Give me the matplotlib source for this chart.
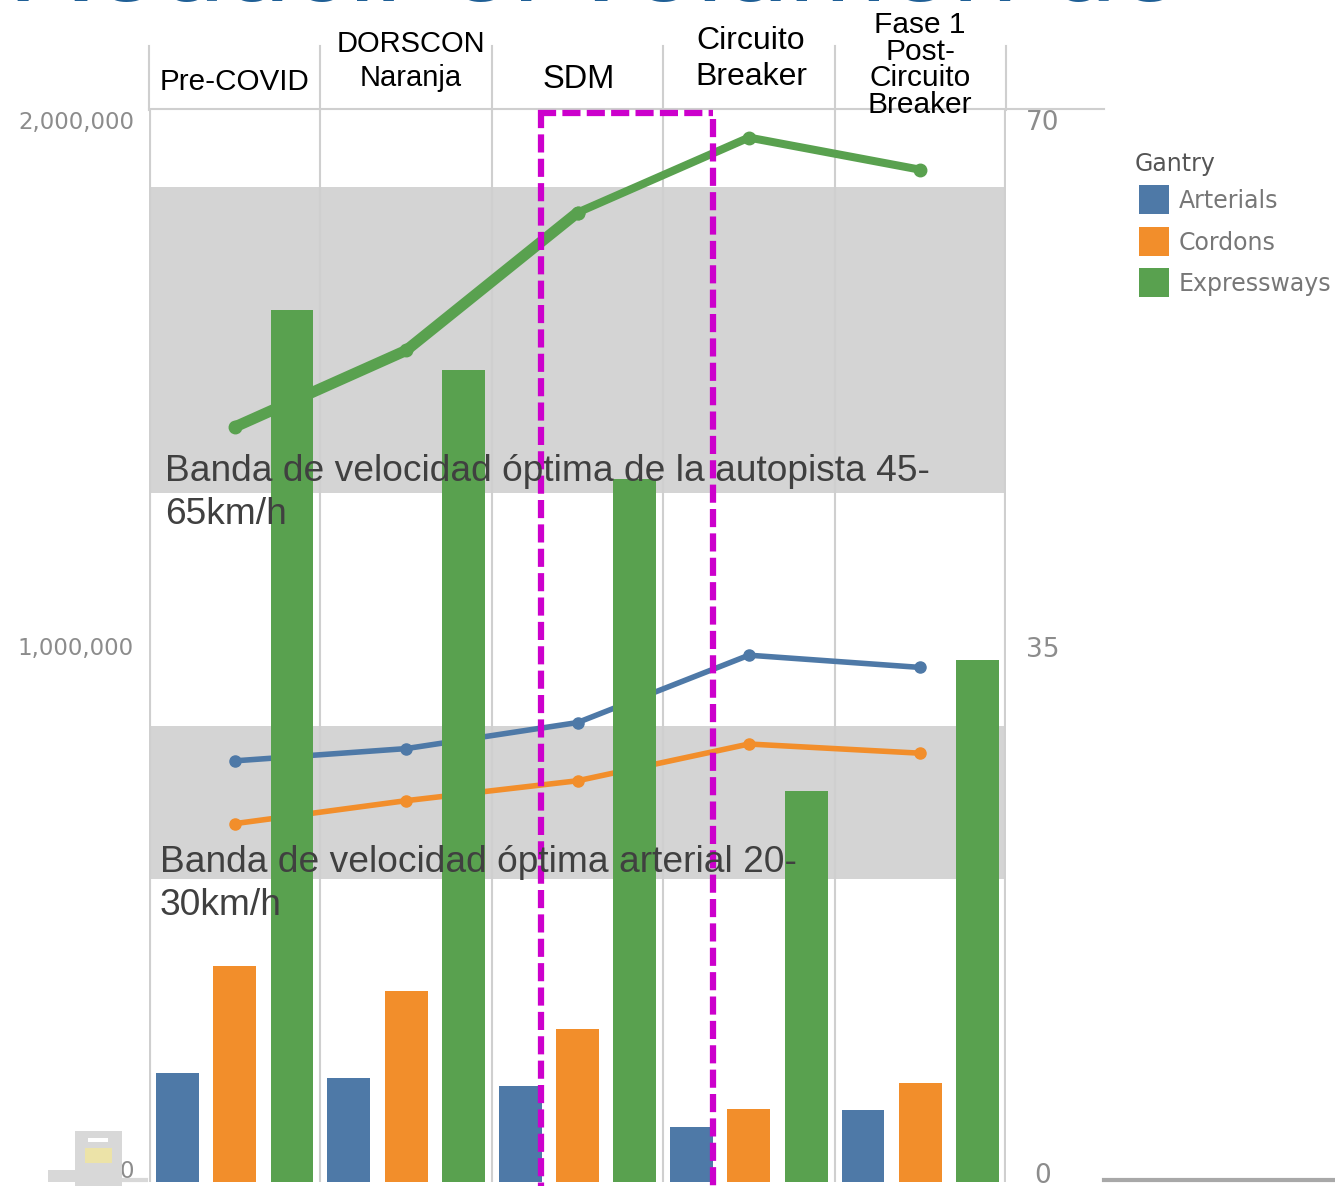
# Traffic volume and speed by circuit breaker phase
import matplotlib
matplotlib.use("Agg")
import matplotlib.pyplot as plt
from matplotlib.patches import Rectangle

W, H = 1335, 1186

# ===========================
# Data
# ===========================
title = "Reducir el volumen de"
phases = ["Pre-COVID", "DORSCON\nNaranja", "SDM", "Circuito\nBreaker", "Fase 1\nPost-\nCircuito\nBreaker"]
gantries = ["Arterials", "Cordons", "Expressways"]
colors = ["#4e79a7", "#f28e2b", "#59a14f"]

# bars, left axis
arterials_vol = [203000, 194000, 179000, 103000, 134000]
cordons_vol = [403000, 356000, 285000, 136000, 185000]
expressways_vol = [1627000, 1515000, 1312000, 729000, 974000]

# lines, right axis
arterials_speed = [27.5, 28.3, 30.0, 34.4, 33.6]
cordons_speed = [23.4, 24.9, 26.2, 28.6, 28.0]
expressways_speed = [49.3, 54.3, 63.3, 68.2, 66.1]

left_ticks = [0, 1000000, 2000000]
right_ticks = [0, 35, 70]
expressway_band = (45, 65)
arterial_band = (19.8, 29.8)
expressway_label = "Banda de velocidad óptima de la autopista 45-\n65km/h"
arterial_label = "Banda de velocidad óptima arterial 20-\n30km/h"

plt.rcParams["font.family"] = ["Liberation Sans", "DejaVu Sans"]

# ===========================
# Figure and axes
# ===========================
fig = plt.figure(figsize=(W / 100, H / 100), dpi=100)
left, right, top, bottom = 149, 1006, 110, 1182
rect = [left / W, 1 - bottom / H, (right - left) / W, (bottom - top) / H]
ax2 = fig.add_axes(rect, zorder=1)   # speed, behind
ax = fig.add_axes(rect, zorder=2)    # volume, bars in front of the lines
ax.patch.set_visible(False)

# pixel overlay for the frame, text and decoration
over = fig.add_axes([0, 0, 1, 1], zorder=3)
over.set_xlim(0, W)
over.set_ylim(H, 0)
over.axis("off")

# ===========================
# Speed bands and lines
# ===========================
x = list(range(5))
ax2.set_xlim(-0.5, 4.5)
ax2.set_ylim(0, 70)
ax2.axhspan(*expressway_band, color="#d4d4d4", lw=0, zorder=1)
ax2.axhspan(*arterial_band, color="#d4d4d4", lw=0, zorder=1)
for i in range(6):
    edge = i in (0, 5)
    ax2.axvline(i - 0.5, color="#cfcfcf", lw=3 if edge else 1.5, zorder=2)
ax2.plot(x, arterials_speed, color=colors[0], lw=4, marker="o", ms=8, zorder=3, solid_capstyle="round")
ax2.plot(x, cordons_speed, color=colors[1], lw=4, marker="o", ms=8, zorder=3, solid_capstyle="round")
ax2.plot(x[:3], expressways_speed[:3], color=colors[2], lw=8, marker="o", ms=9, zorder=3, solid_capstyle="round")
ax2.plot(x[2:], expressways_speed[2:], color=colors[2], lw=5.8, marker="o", ms=9, zorder=3, solid_capstyle="round")
ax2.set_xticks([])
ax2.set_yticks([])
for s in ax2.spines.values():
    s.set_visible(False)

# ===========================
# Volume bars
# ===========================
ax.set_xlim(-0.5, 4.5)
ax.set_ylim(0, 2000000)
w = 0.25
for k, vals in enumerate([arterials_vol, cordons_vol, expressways_vol]):
    ax.bar([i + (k - 1) * 0.334 for i in x], vals, width=w, color=colors[k], zorder=3)
ax.set_xticks([])
ax.set_yticks([])
for s in ax.spines.values():
    s.set_visible(False)

# ===========================
# Tick labels
# ===========================
tick_style = dict(color="#8c8c8c", family="DejaVu Sans", textcoords="offset pixels", va="center")
for val, dy in zip(left_ticks, [10, -3, -12]):
    ax.annotate(f"{val:,}", (0, val), xycoords=ax.get_yaxis_transform(), xytext=(-15, dy),
                ha="right", fontsize=16.5, **tick_style)
for val, dy in zip(right_ticks, [6, -4, -13]):
    ax2.annotate(str(val), (1, val), xycoords=ax2.get_yaxis_transform(), xytext=(37, dy),
                 ha="center", fontsize=19, **tick_style)

# ===========================
# Frame and decoration, in pixels
# ===========================
over.plot([149, 1104], [109, 109], color="#cfcfcf", lw=1.5)
for i in range(6):
    px = left + i * (right - left) / 5
    over.plot([px, px], [46, 110], color="#cfcfcf", lw=1.5)
over.add_patch(Rectangle((843, 20), 152, 120, color="white", lw=0))
over.plot([1104, 1335], [1180, 1180], color="#a8a8a8", lw=3)

# cropped slide title along the top edge
over.text(8, 1, title, ha="left", va="baseline", fontsize=85, color="#1f5f96")

# SDM highlight box
dash = dict(color="#cc00cc", lw=4.5, dashes=(2.9, 1), dash_capstyle="butt")
over.plot([538, 713], [113, 113], **dash)
over.plot([541, 541], [110, 1186], **dash)
over.plot([713, 713], [119, 1186], **dash)

# header labels
header_x = [234, 411, 579, 751, 920]
header_y = [82, 61, 79, 59, 65]
header_size = [21.3, 21, 23.5, 23, 21.5]
header_spacing = [1.0, 1.3, 1.0, 1.3, 0.93]
for label, cx, cy, fs, ls in zip(phases, header_x, header_y, header_size, header_spacing):
    over.text(cx, cy, label, ha="center", va="center", fontsize=fs, color="black", linespacing=ls)

# band captions
over.text(165, 493, expressway_label, ha="left", va="center", fontsize=26.7, color="#404040", linespacing=1.3)
over.text(160, 884, arterial_label, ha="left", va="center", fontsize=26.7, color="#404040", linespacing=1.3)

# legend
over.text(1135, 164, "Gantry", fontsize=17, family="DejaVu Sans", color="#555555", va="center")
for k, name in enumerate(gantries):
    y0 = 185 + k * 41.5
    over.add_patch(Rectangle((1139, y0), 30, 29, color=colors[k], lw=0))
    over.text(1179, y0 + 16, name, fontsize=17, family="DejaVu Sans", color="#777777", va="center")

# small icon over the corner
over.add_patch(Rectangle((75, 1131), 47, 55, color="#d8d8d8", lw=0))
over.add_patch(Rectangle((48, 1170), 30, 12, color="#d8d8d8", lw=0))
over.add_patch(Rectangle((88, 1138), 20, 4, color="white", lw=0))
over.add_patch(Rectangle((85, 1148), 27, 15, color="#ece3a8", lw=0))
over.plot([122, 146], [1180, 1180], color="#d8d8d8", lw=3)

fig.savefig("out.png", dpi=100)
